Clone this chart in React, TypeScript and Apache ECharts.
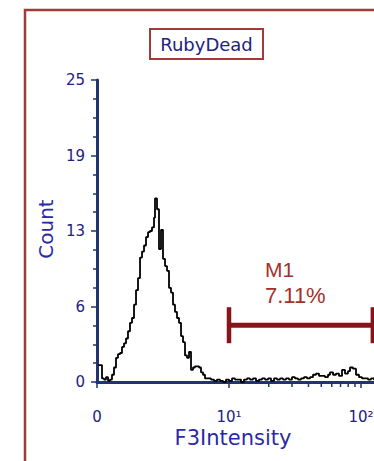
import React, { useEffect, useRef } from "react";
import * as echarts from "echarts";

// ---- data ----
const histIntensity = [
  1.018, 1.054, 1.091, 1.13, 1.17, 1.212, 1.254, 1.299, 1.345, 1.393, 1.442, 1.494,
  1.547, 1.602, 1.659, 1.717, 1.778, 1.841, 1.907, 1.975, 2.045, 2.118, 2.193, 2.271,
  2.351, 2.435, 2.521, 2.61, 2.703, 2.75, 2.848, 2.949, 3.054, 3.162, 3.275, 3.391,
  3.511, 3.636, 3.765, 3.899, 4.037, 4.181, 4.329, 4.483, 4.642, 4.807, 4.977, 5.154,
  5.337, 5.526, 5.722, 5.926, 6.136, 6.354, 6.579, 6.933, 7.305, 7.698, 8.111, 8.547,
  9.006, 9.49, 10.0, 10.54, 11.1, 11.7, 12.33, 12.99, 13.69, 14.42, 15.2, 16.02,
  16.88, 17.78, 18.74, 19.75, 20.81, 21.93, 23.1, 24.35, 25.65, 27.03, 28.48, 30.01,
  31.62, 33.32, 35.11, 37.0, 38.99, 41.08, 43.29, 45.61, 48.06, 50.64, 53.37, 56.23,
  58.24, 61.37, 64.67, 68.13, 71.79, 75.65, 79.71, 82.54, 86.97, 91.65, 96.57, 101.8,
  107.2, 113.0, 119.1, 125.5, 132.2, 139.3,
];
const histCount = [
  1.4, 1.4, 0.3, 0.2, 0.4, 0.1, 0.2, 0.6, 1.2, 2.0, 2.3, 2.4,
  2.9, 3.2, 3.6, 4.2, 4.9, 5.3, 6.4, 7.6, 8.6, 10.3, 10.8, 11.3,
  12.0, 12.4, 12.5, 12.8, 13.6, 15.2, 14.3, 11.0, 12.6, 10.2, 9.6, 9.2,
  7.8, 7.4, 6.4, 5.8, 5.3, 4.9, 3.8, 3.3, 2.2, 2.0, 2.5, 1.0,
  1.2, 1.3, 1.3, 1.2, 0.8, 0.6, 0.3, 0.3, 0.2, 0.1, 0.2, 0.1,
  0, 0.2, 0.1, 0.3, 0.2, 0.2, 0, 0.2, 0.3, 0.2, 0.3, 0.1,
  0.2, 0.3, 0.2, 0.3, 0.1, 0.3, 0.2, 0.3, 0.2, 0.3, 0.2, 0.4,
  0.3, 0.2, 0.3, 0.4, 0.3, 0.4, 0.6, 0.7, 0.5, 0.5, 0.4, 0.6,
  0.8, 0.6, 0.7, 0.5, 1.0, 0.7, 0.9, 1.2, 1.1, 0.6, 0.4, 0.3,
  0.3, 0.2, 0.3, 0.2, 0.3, 0.2,
];
const xMinorTicks = [20, 30, 40, 50, 60, 70, 80, 90, 200, 300, 400, 500, 600, 700, 800, 900, 2000, 3000, 4000, 5000, 6000, 7000, 8000, 9000];
const gateRange = [10, 123];
const gateLevel = 4.7;
const gateName = "M1";
const gatePercent = "7.11%";
const yTicks = [0, 6.25, 12.5, 18.75, 25];
const superscripts = ["\u2070", "\u00b9", "\u00b2", "\u00b3", "\u2074"];

const NAVY = "#1f3470";
const LABEL = "#22227f";
const FRAME = "#a33a3a";
const GATE = "#861418";

export default function App() {
  const ref = useRef<HTMLDivElement>(null);
  useEffect(() => {
    if (!ref.current) return;
    const chart = echarts.init(ref.current, null, { renderer: "svg" });
    const option: any = {
      animation: false,
      backgroundColor: "#ffffff",
      grid: { left: 97, top: 80, width: 528, height: 302, containLabel: false },
      xAxis: {
        type: "log",
        logBase: 10,
        min: 1,
        max: 10000,
        axisLine: { show: true, lineStyle: { color: NAVY, width: 3 } },
        axisTick: { show: true, length: 6, lineStyle: { color: NAVY, width: 1.5 } },
        splitLine: { show: false },
        axisLabel: {
          color: LABEL,
          fontFamily: "DejaVu Sans",
          fontSize: 15,
          margin: 27,
          formatter: (v: number) => {
            const e = Math.round(Math.log10(v));
            return e === 0 ? "0" : "10" + superscripts[e];
          },
        },
      },
      yAxis: {
        type: "value",
        min: yTicks[0],
        max: yTicks[yTicks.length - 1],
        interval: yTicks[1] - yTicks[0],
        axisLine: { show: true, lineStyle: { color: NAVY, width: 3 } },
        axisTick: { show: true, length: 6, lineStyle: { color: NAVY, width: 1.5 } },
        minorTick: { show: true, splitNumber: 4, length: 4, lineStyle: { color: NAVY, width: 1.5 } },
        splitLine: { show: false },
        minorSplitLine: { show: false },
        axisLabel: {
          color: LABEL,
          fontFamily: "DejaVu Sans",
          fontSize: 15,
          margin: 12,
          formatter: (v: number) => String(Math.round(v)),
        },
      },
      graphic: [
        {
          type: "rect",
          shape: { x: 25, y: 10, width: 900, height: 900 },
          style: { fill: "none", stroke: FRAME, lineWidth: 2.5 },
          z: 1,
        },
        {
          type: "rect",
          shape: { x: 150, y: 29, width: 113, height: 30 },
          style: { fill: "#fff", stroke: FRAME, lineWidth: 2 },
          z: 2,
        },
        {
          type: "text",
          x: 206.5,
          y: 44,
          style: {
            text: "RubyDead",
            fill: LABEL,
            font: "18px 'DejaVu Sans'",
            align: "center",
            verticalAlign: "middle",
          },
          z: 3,
        },
        {
          type: "text",
          x: 46,
          y: 229,
          rotation: Math.PI / 2,
          style: {
            text: "Count",
            fill: "#2a2aa6",
            font: "20px 'DejaVu Sans'",
            align: "center",
            verticalAlign: "middle",
          },
          z: 3,
        },
        {
          type: "text",
          x: 233,
          y: 438,
          style: {
            text: "F3Intensity",
            fill: "#2a2aa6",
            font: "21px 'DejaVu Sans'",
            align: "center",
            verticalAlign: "middle",
          },
          z: 3,
        },
      ],
      series: [
        {
          type: "line",
          step: "end",
          showSymbol: false,
          symbol: "none",
          data: histIntensity.map((x, i) => [x, histCount[i]]),
          lineStyle: { color: "#000000", width: 1.8 },
          z: 3,
        },
        {
          type: "custom",
          clip: false,
          data: xMinorTicks.map((v) => [v, 0]),
          encode: { x: 0, y: 1 },
          renderItem: (params: any, api: any) => {
            const p = api.coord([api.value(0), 0]);
            return {
              type: "line",
              shape: { x1: p[0], y1: p[1], x2: p[0], y2: p[1] + 5 },
              style: { stroke: NAVY, lineWidth: 1.5 },
            };
          },
          z: 4,
        },
        {
          type: "custom",
          clip: false,
          data: [[gateRange[0], gateRange[1], gateLevel]],
          encode: { x: [0, 1], y: 2 },
          renderItem: (params: any, api: any) => {
            const a = api.coord([api.value(0), api.value(2)]);
            const b = api.coord([api.value(1), api.value(2)]);
            const cx = (a[0] + b[0]) / 2;
            return {
              type: "group",
              children: [
                {
                  type: "line",
                  shape: { x1: a[0], y1: a[1], x2: b[0], y2: b[1] },
                  style: { stroke: GATE, lineWidth: 5 },
                },
                {
                  type: "line",
                  shape: { x1: a[0], y1: a[1] - 18, x2: a[0], y2: a[1] + 18 },
                  style: { stroke: GATE, lineWidth: 4.5 },
                },
                {
                  type: "line",
                  shape: { x1: b[0], y1: b[1] - 18, x2: b[0], y2: b[1] + 18 },
                  style: { stroke: GATE, lineWidth: 4.5 },
                },
                {
                  type: "text",
                  x: cx - 36,
                  y: a[1] - 56,
                  style: {
                    text: gateName,
                    fill: "#a3302a",
                    font: "21px 'Liberation Sans'",
                    align: "left",
                    verticalAlign: "middle",
                  },
                },
                {
                  type: "text",
                  x: cx - 36,
                  y: a[1] - 30,
                  style: {
                    text: gatePercent,
                    fill: "#a3302a",
                    font: "22px 'Liberation Sans'",
                    align: "left",
                    verticalAlign: "middle",
                  },
                },
              ],
            };
          },
          z: 5,
        },
      ],
    };
    chart.setOption(option);
    return () => chart.dispose();
  }, []);
  return (
    <div
      style={{
        position: "fixed",
        left: 0,
        top: 0,
        width: 374,
        height: 461,
        overflow: "hidden",
        background: "#fff",
      }}
    >
      <div ref={ref} style={{ width: 660, height: 520 }} />
    </div>
  );
}
